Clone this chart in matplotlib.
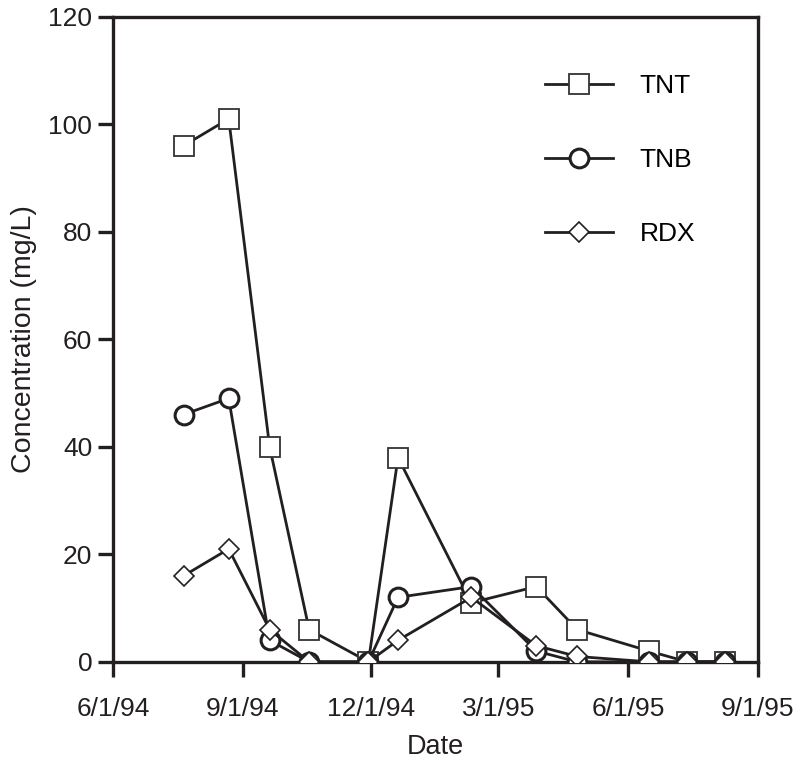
import numpy as np
import pandas as pd
import matplotlib
matplotlib.use('Agg')
import matplotlib.pyplot as plt

plt.rcParams['font.family'] = ['Liberation Sans', 'DejaVu Sans']

# sampling dates (same for every compound)
dates = ['1994-07-21', '1994-08-22', '1994-09-20', '1994-10-18', '1994-11-29',
         '1994-12-20', '1995-02-10', '1995-03-28', '1995-04-26', '1995-06-16',
         '1995-07-13', '1995-08-09']
tnt = [96, 101, 40, 6, 0, 38, 11, 14, 6, 2, 0, 0]
tnb = [46, 49, 4, 0, 0, 12, 14, 2, 0, 0, 0, 0]
rdx = [16, 21, 6, 0, 0, 4, 12, 3, 1, 0, 0, 0]

tick_dates = ['1994-06-01', '1994-09-01', '1994-12-01', '1995-03-01', '1995-06-01', '1995-09-01']
tick_labels = ['6/1/94', '9/1/94', '12/1/94', '3/1/95', '6/1/95', '9/1/95']

x = pd.to_datetime(dates)
ticks = pd.to_datetime(tick_dates)

fig = plt.figure(figsize=(7.96, 7.59), dpi=100)
ax = fig.add_axes([0.142, 0.128, 0.810, 0.850])

lc = '#231f20'
ax.plot(x, tnt, color=lc, lw=2, marker='s', ms=14, mfc='white', mec='#333333', mew=1.3, label='TNT', zorder=3)
ax.plot(x, tnb, color=lc, lw=2, marker='o', ms=13.5, mfc='white', mec=lc, mew=2.2, label='TNB', zorder=4)
ax.plot(x, rdx, color=lc, lw=2, marker='D', ms=10.5, mfc='white', mec=lc, mew=1.2, label='RDX', zorder=5)

ax.set_xlim(ticks[0], ticks[-1])
ax.set_ylim(0, 120)
ax.set_xticks(ticks)
ax.set_xticklabels(tick_labels)
ax.set_yticks(np.arange(0, 121, 20))

for s in ax.spines.values():
    s.set_linewidth(2.4)
    s.set_color(lc)
ax.tick_params(direction='out', length=11, width=2.4, colors=lc, labelsize=19, pad=4)
ax.tick_params(axis='x', pad=14)

ax.set_xlabel('Date', fontsize=19.5, color=lc, labelpad=10)
ax.set_ylabel('Concentration (mg/L)', fontsize=20.5, color=lc, labelpad=8)

ax.legend(loc='upper right', bbox_to_anchor=(0.94, 0.948), frameon=False, fontsize=19,
          handlelength=2.6, labelspacing=1.9, handletextpad=1.0)

fig.savefig('out.png', dpi=100)
